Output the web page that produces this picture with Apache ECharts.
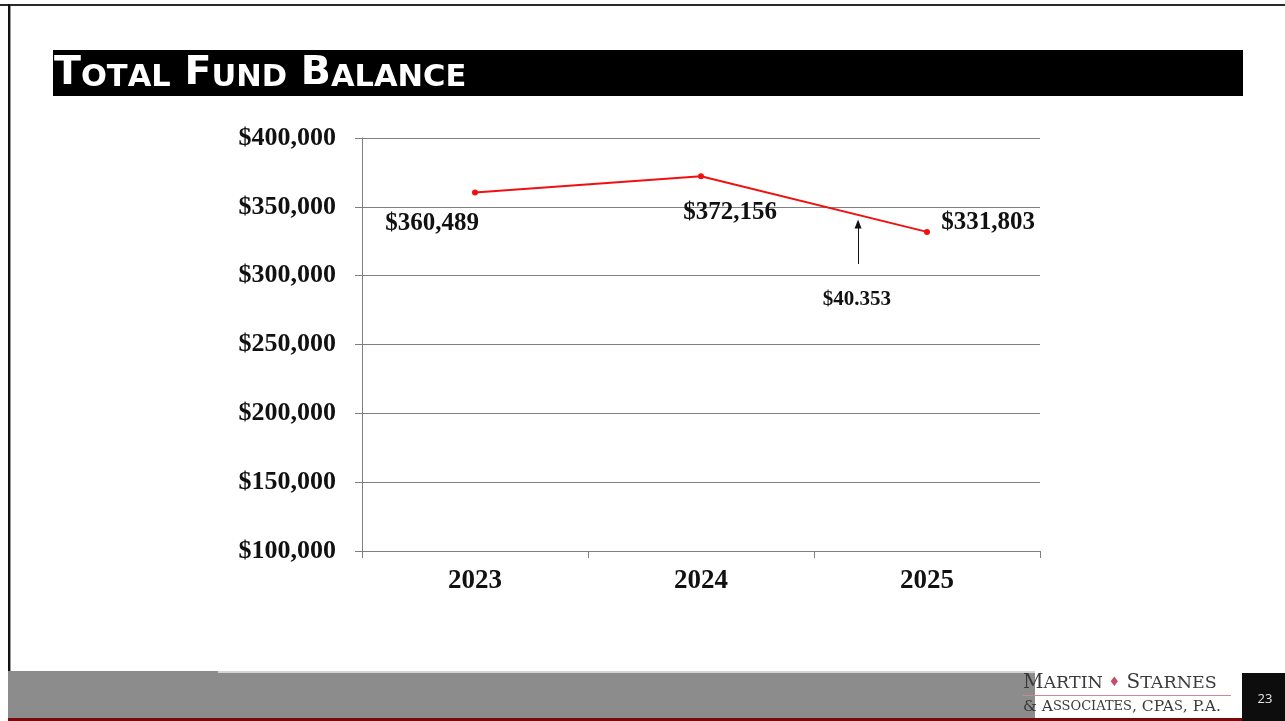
<!DOCTYPE html>
<html>
<head>
<meta charset="utf-8">
<title>Total Fund Balance</title>
<script src="https://cdn.jsdelivr.net/npm/echarts@6/dist/echarts.min.js"></script>
<style>
  html, body { margin: 0; padding: 0; background: #ffffff; }
  #chart { width: 1285px; height: 721px; }
</style>
</head>
<body>
<div id="chart"></div>
<script>
// Fiscal years and year-end fund balances
const years = ['2023', '2024', '2025'];
const fundBalance = [360489, 372156, 331803];

// Value axis range and step
const yMin = 100000;
const yMax = 400000;
const yStep = 50000;

// Change noted between 2024 and 2025, as printed on the slide
const changeNote = '$40.353';

// Label placement around each point (pixel offsets from the marker)
const labelOffsets = [[-43, 31], [29, 36], [61, -9]];

const serif = '"Liberation Serif", "Times New Roman", serif';

function money(v) {
  return '$' + v.toLocaleString('en-US');
}

const chart = echarts.init(document.getElementById('chart'), null, { renderer: 'canvas' });

const points = fundBalance.map((v, i) => ({
  value: v,
  label: { offset: labelOffsets[i] }
}));

// Small-caps title built from rich text pieces
function smallCaps(str) {
  const parts = [];
  for (const ch of str) {
    if (ch === ' ') parts.push('{c| }');
    else if (/[A-Z]/.test(ch)) parts.push('{c|' + ch + '}');
    else parts.push('{s|' + ch.toUpperCase() + '}');
  }
  return parts.join('');
}

const titleFont = '"DejaVu Sans", Verdana, sans-serif';
const logoFont = '"DejaVu Serif", "Liberation Serif", serif';

const option = {
  backgroundColor: '#ffffff',
  animation: false,
  grid: { left: 362, right: 245, top: 138, bottom: 170, containLabel: false },
  xAxis: [
    {
      type: 'category',
      data: years,
      boundaryGap: true,
      axisLine: { show: true, lineStyle: { color: '#7f7f7f', width: 1 } },
      axisTick: { show: true, alignWithLabel: false, length: 7, lineStyle: { color: '#7f7f7f' } },
      axisLabel: { color: '#111111', fontFamily: serif, fontWeight: 'bold', fontSize: 27, margin: 17 },
      splitLine: { show: false }
    },
    {
      type: 'value',
      min: -0.5,
      max: 2.5,
      show: false
    }
  ],
  yAxis: {
    type: 'value',
    min: yMin,
    max: yMax,
    interval: yStep,
    axisLine: { show: true, onZero: false, lineStyle: { color: '#7f7f7f', width: 1 } },
    axisTick: { show: true, length: 7, lineStyle: { color: '#7f7f7f' } },
    axisLabel: {
      color: '#111111', fontFamily: serif, fontWeight: 'bold', fontSize: 26, margin: 26,
      padding: [4, 0, 0, 0],
      formatter: v => money(v)
    },
    splitLine: { show: true, lineStyle: { color: '#7f7f7f', width: 1 } }
  },
  series: [
    {
      type: 'line',
      data: points,
      xAxisIndex: 0,
      symbol: 'circle',
      symbolSize: 6,
      lineStyle: { color: '#f01010', width: 2 },
      itemStyle: { color: '#f01010' },
      label: {
        show: true,
        position: 'inside',
        align: 'center',
        verticalAlign: 'middle',
        color: '#111111',
        fontFamily: serif,
        fontWeight: 'bold',
        fontSize: 25,
        formatter: p => money(p.value)
      },
      z: 5
    },
    {
      // Annotation layer on a fractional x scale
      type: 'line',
      xAxisIndex: 1,
      data: [],
      silent: true,
      markLine: {
        silent: true,
        symbol: ['none', 'triangle'],
        symbolSize: [7, 9],
        lineStyle: { color: '#111111', width: 1, type: 'solid' },
        label: { show: false },
        data: [[{ coord: [1.695, 308500] }, { coord: [1.695, 337500] }]]
      },
      markPoint: {
        silent: true,
        symbol: 'circle',
        symbolSize: 0,
        label: {
          show: true,
          position: 'inside',
          color: '#111111',
          fontFamily: serif,
          fontWeight: 'bold',
          fontSize: 21,
          formatter: () => changeNote
        },
        data: [{ coord: [1.69, 282300] }]
      }
    }
  ],
  graphic: [
    // Slide frame
    { type: 'rect', shape: { x: 0, y: 4, width: 1285, height: 2 }, style: { fill: '#2a2a2a' }, silent: true },
    { type: 'rect', shape: { x: 8, y: 4, width: 2, height: 715 }, style: { fill: '#111111' }, silent: true },
    { type: 'rect', shape: { x: 10, y: 6, width: 1, height: 712 }, style: { fill: '#9a9a9a' }, silent: true },
    // Title bar
    { type: 'rect', shape: { x: 53, y: 50, width: 1190, height: 46 }, style: { fill: '#000000' }, silent: true },
    {
      type: 'text', left: 54, top: 54, silent: true,
      style: {
        text: smallCaps('Total Fund Balance'),
        rich: {
          c: { fill: '#ffffff', fontFamily: titleFont, fontWeight: 'bold', fontSize: 39.5, verticalAlign: 'bottom', lineHeight: 42 },
          s: { fill: '#ffffff', fontFamily: titleFont, fontWeight: 'bold', fontSize: 30.5, verticalAlign: 'bottom', lineHeight: 42 }
        }
      }
    },
    // Footer band
    { type: 'rect', shape: { x: 8, y: 671, width: 210, height: 47 }, style: { fill: '#8c8c8c' }, silent: true },
    { type: 'rect', shape: { x: 218, y: 671, width: 817, height: 2 }, style: { fill: '#d4d4d4' }, silent: true },
    { type: 'rect', shape: { x: 218, y: 673, width: 817, height: 45 }, style: { fill: '#8c8c8c' }, silent: true },
    { type: 'rect', shape: { x: 8, y: 718, width: 1234, height: 3 }, style: { fill: '#7a0a0a' }, silent: true },
    // Firm mark
    {
      type: 'text', left: 1023, top: 673, silent: true,
      style: {
        text: '{b|M}{s|ARTIN }{d|♦}{b| S}{s|TARNES}',
        rich: {
          b: { fill: '#3a3a3a', fontFamily: logoFont, fontSize: 20 },
          s: { fill: '#3a3a3a', fontFamily: logoFont, fontSize: 17.5 },
          d: { fill: '#c0506a', fontFamily: logoFont, fontSize: 13 }
        }
      }
    },
    { type: 'rect', shape: { x: 1023, y: 695, width: 208, height: 1 }, style: { fill: '#c98a94' }, silent: true },
    {
      type: 'text', left: 1023, top: 699, silent: true,
      style: {
        text: '{b|& A}{s|SSOCIATES}{b|, CPA}{s|S}{b|, P.A.}',
        rich: {
          b: { fill: '#3a3a3a', fontFamily: logoFont, fontSize: 15.5 },
          s: { fill: '#3a3a3a', fontFamily: logoFont, fontSize: 13 }
        }
      }
    },
    // Page number
    { type: 'rect', shape: { x: 1242, y: 673, width: 43, height: 48 }, style: { fill: '#0d0d0d' }, silent: true },
    {
      type: 'text', x: 1265, y: 699, silent: true,
      style: { text: '23', fill: '#e6e6e6', fontFamily: '"Open Sans", "DejaVu Sans", sans-serif', fontSize: 13, textAlign: 'center', textVerticalAlign: 'middle' }
    }
  ]
};

chart.setOption(option);
</script>
</body>
</html>
